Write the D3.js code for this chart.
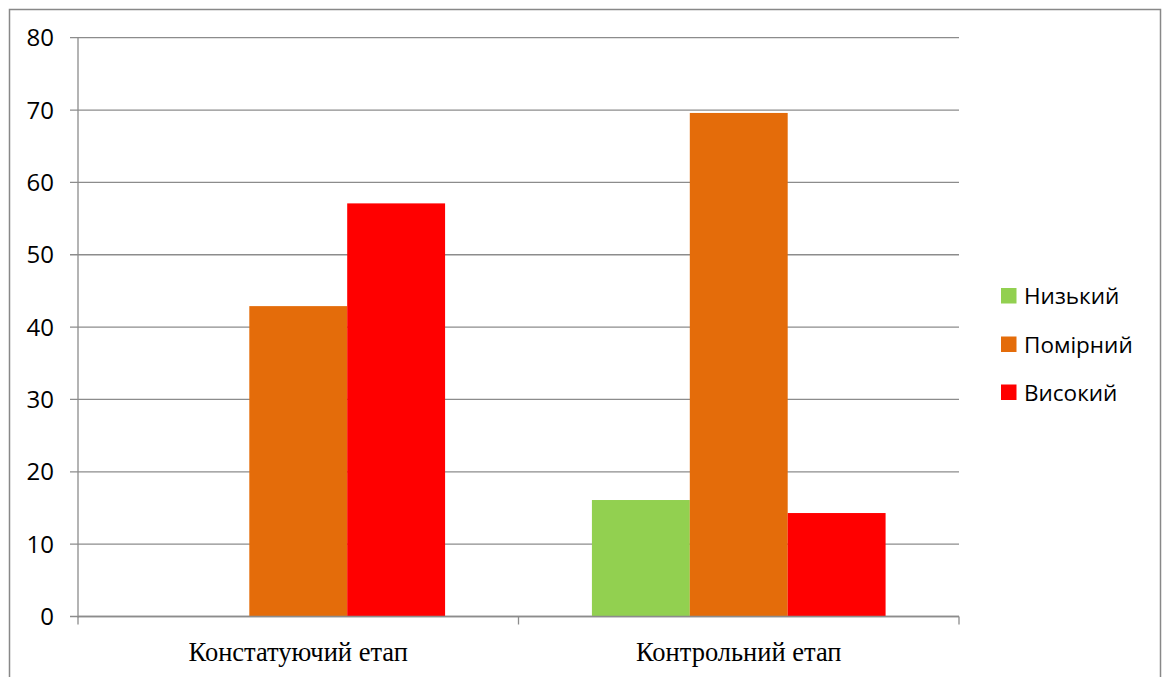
<!DOCTYPE html>
<html><head><meta charset="utf-8">
<script src="https://cdn.jsdelivr.net/npm/d3@7/dist/d3.min.js"></script>
<style>body{margin:0;background:#fff}svg{display:block}</style>
</head><body><svg id="c" width="1168" height="677"></svg>
<script>
const categories = ["Констатуючий етап", "Контрольний етап"];
const seriesNames = ["Низький", "Помірний", "Високий"];
const seriesColors = ["#92d050", "#e46c0a", "#ff0000"];
const lowValues = [0, 16.1];
const moderateValues = [42.9, 69.6];
const highValues = [57.1, 14.3];
const yTicks = [0, 10, 20, 30, 40, 50, 60, 70, 80];

const series = [lowValues, moderateValues, highValues];
const svg = d3.select("#c");
const L = 78, R = 959, T = 37.7, B = 616.5;

svg.append("rect").attr("x", 9.5).attr("y", 9.5).attr("width", 1151).attr("height", 675)
  .attr("fill", "none").attr("stroke", "#888").attr("stroke-width", 1.5);

const x0 = d3.scaleBand().domain(categories).range([L, R]).paddingInner(0).paddingOuter(0);
const x1 = d3.scaleBand().domain(seriesNames)
  .range([x0.bandwidth() / 6, x0.bandwidth() * 5 / 6]).paddingInner(0).paddingOuter(0);
const y = d3.scaleLinear().domain([0, 80]).range([B, T]);

// gridlines
svg.append("g").selectAll("line").data(yTicks).join("line")
  .attr("x1", L - 8).attr("x2", R).attr("y1", d => y(d)).attr("y2", d => y(d))
  .attr("stroke", "#8c8c8c").attr("stroke-width", 1.3);

// bars
const g = svg.append("g");
categories.forEach((c, ci) => {
  seriesNames.forEach((s, si) => {
    const v = series[si][ci];
    if (v > 0) g.append("rect")
      .attr("x", x0(c) + x1(s)).attr("width", x1.bandwidth())
      .attr("y", y(v)).attr("height", y(0) - y(v))
      .attr("fill", seriesColors[si]);
  });
});

// axes lines
svg.append("line").attr("x1", L).attr("x2", L).attr("y1", T).attr("y2", B + 1)
  .attr("stroke", "#8c8c8c").attr("stroke-width", 1.3);
svg.append("line").attr("x1", L).attr("x2", R).attr("y1", B).attr("y2", B)
  .attr("stroke", "#8c8c8c").attr("stroke-width", 1.3);
const bounds = categories.map(c => x0(c)).concat([x0(categories[1]) + x0.bandwidth()]);
svg.append("g").selectAll("line").data(bounds).join("line")
  .attr("x1", d => d).attr("x2", d => d).attr("y1", B).attr("y2", B + 8)
  .attr("stroke", "#8c8c8c").attr("stroke-width", 1.3);

// y labels
svg.append("g").selectAll("text").data(yTicks).join("text")
  .attr("x", 54).attr("y", d => y(d)).attr("dy", "0.36em").attr("text-anchor", "end")
  .attr("font-family", "Open Sans, sans-serif").attr("font-size", 24).attr("fill", "#000")
  .text(d => d);

// x labels
svg.append("g").selectAll("text").data(categories).join("text")
  .attr("x", d => x0(d) + x0.bandwidth() / 2).attr("y", 661).attr("text-anchor", "middle")
  .attr("font-family", "Liberation Serif, serif").attr("font-size", 26.5).attr("fill", "#000")
  .text(d => d);

// legend
const lg = svg.append("g");
const legY = [296, 344.5, 392.5];
seriesNames.forEach((s, i) => {
  lg.append("rect").attr("x", 1001).attr("y", legY[i] - 8).attr("width", 15.5).attr("height", 15.5)
    .attr("fill", seriesColors[i]);
  lg.append("text").attr("x", 1024).attr("y", legY[i]).attr("dy", "0.36em")
    .attr("font-family", "Open Sans, sans-serif").attr("font-size", 22.5).attr("fill", "#000").text(s);
});
</script></body></html>
